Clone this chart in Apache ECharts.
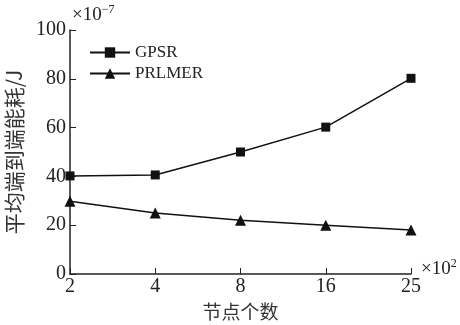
<!DOCTYPE html>
<html><head><meta charset="utf-8">
<script src="https://cdn.jsdelivr.net/npm/echarts@6/dist/echarts.min.js"></script>
<style>html,body{margin:0;padding:0;background:#fff}#c{width:460px;height:325px}</style>
</head><body><div id="c"></div>
<script>
const categories = ['2', '4', '8', '16', '25'];
const gpsr = [40.2, 40.6, 50, 60.2, 80.2];
const prlmer = [29.8, 25, 22, 20, 18];
const yTicks = [0, 20, 40, 60, 80, 100];

const serif = '"Liberation Serif","DejaVu Serif",serif';
const cjk = '"Noto Sans CJK SC","Liberation Serif",serif';
const chart = echarts.init(document.getElementById('c'), null, {renderer: 'canvas'});
chart.setOption({
  animation: false,
  backgroundColor: '#fff',
  grid: {left: 70, right: 49, top: 30, bottom: 51, containLabel: false, outerBoundsMode: 'none'},
  legend: {
    orient: 'vertical', left: 84, top: 39, itemWidth: 40, itemHeight: 13, itemGap: 4,
    textStyle: {fontFamily: serif, fontSize: 17, color: '#222'},
    data: ['GPSR', 'PRLMER']
  },
  xAxis: {
    type: 'category', data: categories, boundaryGap: false,
    name: '节点个数', nameLocation: 'middle', nameGap: 26,
    nameTextStyle: {fontFamily: cjk, fontSize: 19, color: '#333'},
    axisLine: {lineStyle: {color: '#222', width: 1.5}},
    axisTick: {inside: true, length: 6, lineStyle: {color: '#222'}},
    axisLabel: {fontFamily: serif, fontSize: 20, color: '#222', margin: 3},
    splitLine: {show: false}
  },
  yAxis: {
    type: 'value', min: yTicks[0], max: yTicks[yTicks.length - 1], interval: 20,
    name: '平均端到端能耗/J', nameLocation: 'middle', nameGap: 45, nameRotate: 90,
    nameTextStyle: {fontFamily: cjk, fontSize: 21, color: '#333'},
    axisLine: {show: true, lineStyle: {color: '#222', width: 1.5}},
    axisTick: {show: true, inside: true, length: 6, lineStyle: {color: '#222'}},
    axisLabel: {fontFamily: serif, fontSize: 20, color: '#222', margin: 4},
    splitLine: {show: false}
  },
  series: [
    {name: 'GPSR', type: 'line', data: gpsr, symbol: 'rect', symbolSize: 9,
     lineStyle: {color: '#111', width: 1.5}, itemStyle: {color: '#111'}},
    {name: 'PRLMER', type: 'line', data: prlmer, symbol: 'triangle', symbolSize: 11,
     lineStyle: {color: '#111', width: 1.5}, itemStyle: {color: '#111'}}
  ],
  graphic: [
    {type: 'text', left: 72, top: 4, style: {
      text: '×10{s|−7}', fontFamily: serif, fontSize: 19, fill: '#222',
      rich: {s: {fontFamily: serif, fontSize: 12, fill: '#222', padding: [0, 0, 10, 0]}}
    }},
    {type: 'text', left: 421, top: 258, style: {
      text: '×10{s|2}', fontFamily: serif, fontSize: 19, fill: '#222',
      rich: {s: {fontFamily: serif, fontSize: 12, fill: '#222', padding: [0, 0, 10, 0]}}
    }}
  ]
});
</script></body></html>
